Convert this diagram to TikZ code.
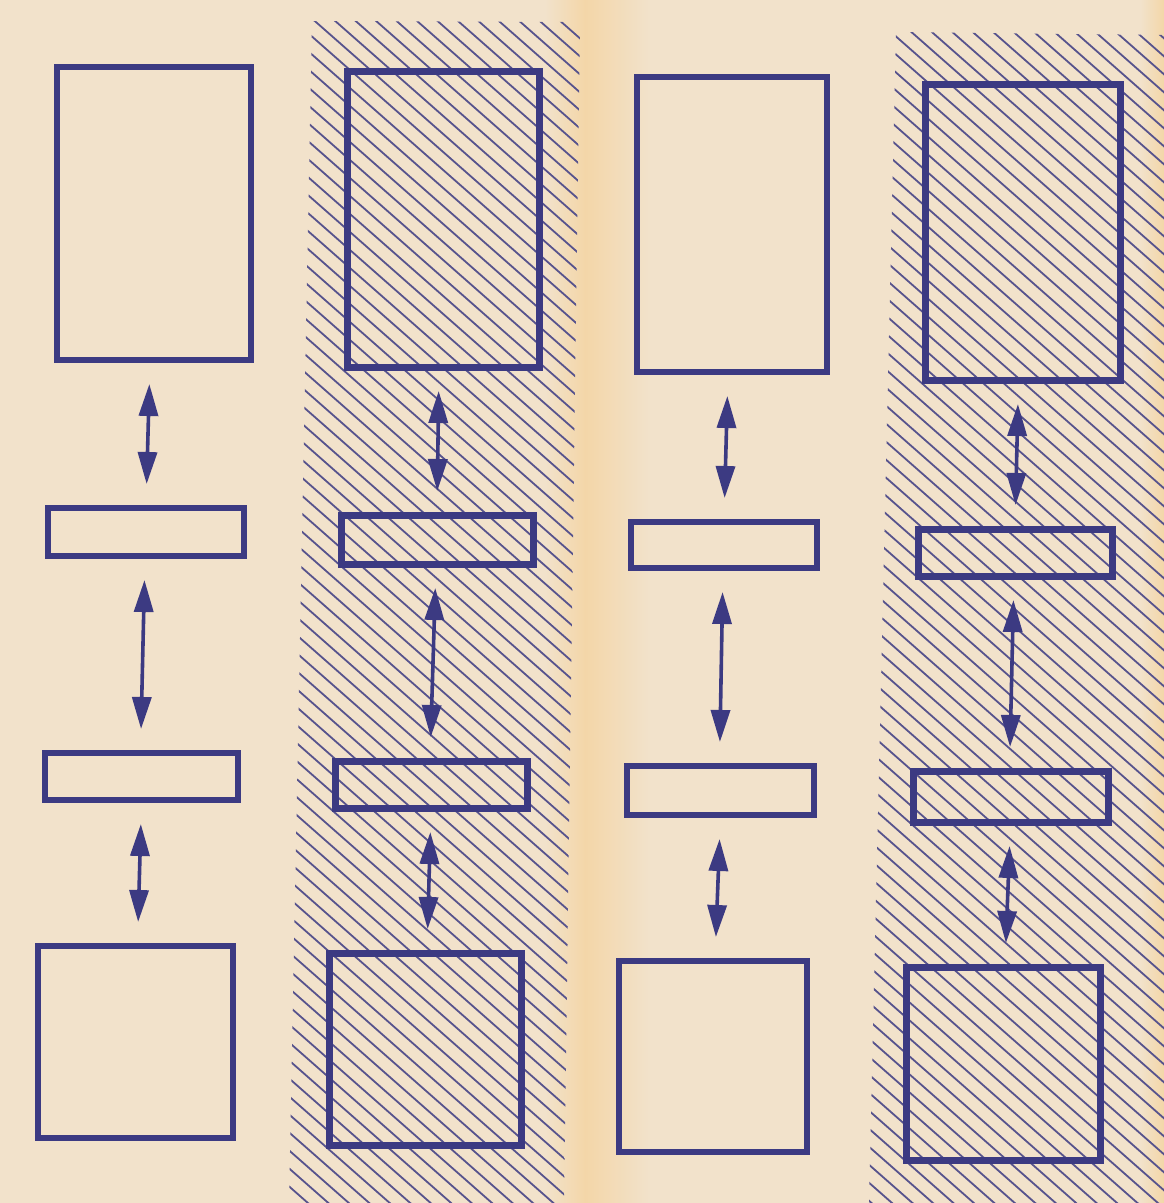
\documentclass[tikz,border=0pt]{standalone}
\usetikzlibrary{arrows.meta}
\definecolor{ink}{HTML}{3C3A82}
\definecolor{paper}{HTML}{F2E2CB}
\definecolor{fold}{HTML}{F3D6A8}
\begin{document}
\begin{tikzpicture}[x=1pt,y=-1pt,
  box/.style={draw=ink, line width=6pt, rectangle, inner sep=0pt, outer sep=0pt},
  hbox/.style={box, line width=7pt},
  dbl/.style={ink, line width=3.6pt, {Triangle[length=32pt,width=19pt]}-{Triangle[length=32pt,width=19pt]}, shorten <=24pt, shorten >=24pt},
  hatch/.style={ink!85!paper, line width=1.8pt}]
\useasboundingbox (0,0) rectangle (1164,1203);
% paper
\fill[paper] (0,0) rectangle (1164,1203);
\shade[left color=paper, right color=fold] (545,0) rectangle (585,1203);
\shade[left color=fold, right color=paper] (585,0) rectangle (650,1203);
\shade[left color=paper, right color=fold] (1140,0) rectangle (1164,1203);
% hatched strips
\begin{scope}
  \clip (312,21) -- (580,22) -- (564,1203) -- (289,1203) -- cycle;
  \foreach \c in {-900,-882,...,1210} \draw[hatch] (250,\c) -- (1200,\c+836);
\end{scope}
\begin{scope}
  \clip (896,32) -- (1164,35) -- (1164,1203) -- (869,1203) -- cycle;
  \foreach \c in {-400,-382,...,1210} \draw[hatch] (850,\c) -- (1200,\c+308);
\end{scope}
% column 1
\node[box, minimum width=194pt, minimum height=293pt] (A1) at (154,213.5) {};
\node[box, minimum width=196pt, minimum height=48pt] (B1) at (146,532) {};
\node[box, minimum width=193pt, minimum height=47pt] (C1) at (141.5,776.5) {};
\node[box, minimum width=195pt, minimum height=192pt] (D1) at (135.5,1042) {};
% column 2
\node[hbox, minimum width=192pt, minimum height=296pt] (A2) at (443,219) {};
\node[hbox, minimum width=192pt, minimum height=49pt] (B2) at (437,539.5) {};
\node[hbox, minimum width=192pt, minimum height=47pt] (C2) at (431,784.5) {};
\node[hbox, minimum width=192pt, minimum height=192pt] (D2) at (425,1049) {};
% column 3
\node[box, minimum width=190pt, minimum height=295pt] (A3) at (732,224.5) {};
\node[box, minimum width=186pt, minimum height=46pt] (B3) at (724,545) {};
\node[box, minimum width=187pt, minimum height=49pt] (C3) at (720.5,790.5) {};
\node[box, minimum width=188pt, minimum height=191pt] (D3) at (713,1056.5) {};
% column 4
\node[hbox, minimum width=195pt, minimum height=296pt] (A4) at (1022.5,232) {};
\node[hbox, minimum width=194pt, minimum height=47pt] (B4) at (1015,552.5) {};
\node[hbox, minimum width=195pt, minimum height=51pt] (C4) at (1010.5,796.5) {};
\node[hbox, minimum width=194pt, minimum height=193pt] (D4) at (1003,1063.5) {};
% arrows
\foreach \i in {1,2,3,4} {
  \draw[dbl] ([xshift=-4pt]A\i.south) -- (B\i.north);
  \draw[dbl] ([xshift=-1pt]B\i.south) -- ([xshift=-1pt]C\i.north);
  \draw[dbl] (C\i.south) -- ([xshift=2pt]D\i.north);
}
\end{tikzpicture}
\end{document}
